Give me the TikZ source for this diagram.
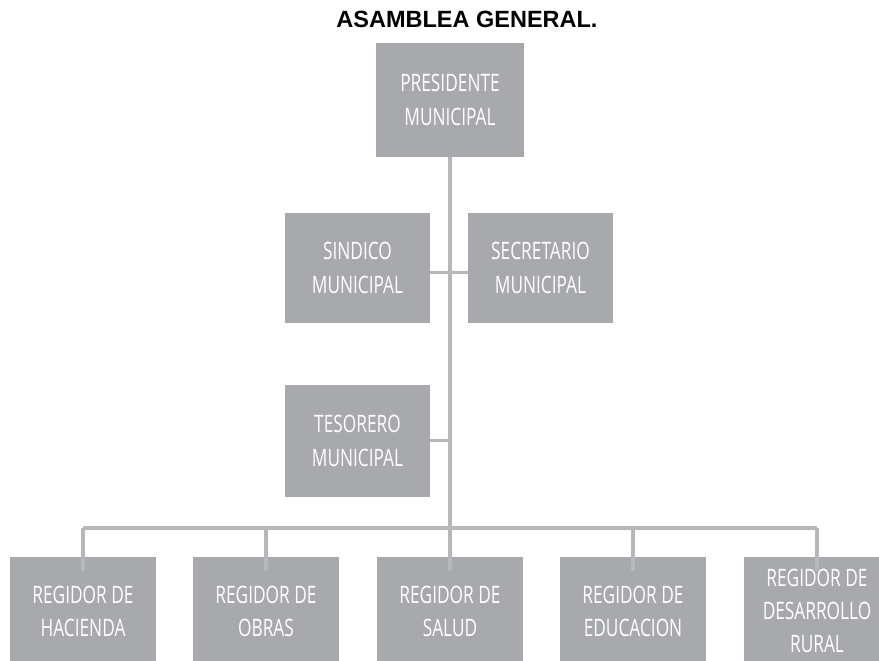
\documentclass[tikz,border=0pt]{standalone}
\usepackage{fontspec}
\setmainfont{Liberation Sans}
\newfontfamily\boxfont[FakeStretch=0.72]{Open Sans}
\definecolor{boxgray}{HTML}{A7A9AC}
\definecolor{linegray}{HTML}{B5B7BA}
\begin{document}
\begin{tikzpicture}[x=1pt,y=-1pt,
  orgbox/.style={fill=boxgray,draw=none,minimum width=145pt,minimum height=114pt,inner sep=0pt,
     align=center,text=white,font=\boxfont\fontsize{24}{34}\selectfont},
  lowbox/.style={orgbox,minimum width=146pt,minimum height=108pt,font=\boxfont\fontsize{24}{33}\selectfont},
  conn/.style={draw=linegray,line width=4pt},
  stub/.style={draw=linegray,line width=3pt}]
\useasboundingbox (0,0) rectangle (879,661);
\node[font=\bfseries\fontsize{23.5}{26}\selectfont,anchor=base] (title) at (467,28) {ASAMBLEA GENERAL.};
\node[orgbox,minimum width=148pt] (pres) at (450,100) {PRESIDENTE\\MUNICIPAL};
\node[orgbox,minimum height=110pt] (sind) at (357.5,268) {SINDICO\\MUNICIPAL};
\node[orgbox,minimum height=110pt] (secr) at (540.5,268) {SECRETARIO\\MUNICIPAL};
\node[orgbox,minimum height=112pt] (teso) at (357.5,441) {TESORERO\\MUNICIPAL};
\node[lowbox] (r1) at (83,611) {REGIDOR DE\\HACIENDA};
\node[lowbox] (r2) at (266,611) {REGIDOR DE\\OBRAS};
\node[lowbox] (r3) at (450,611) {REGIDOR DE\\SALUD};
\node[lowbox] (r4) at (633,611) {REGIDOR DE\\EDUCACION};
\node[lowbox] (r5) at (817,611) {REGIDOR DE\\DESARROLLO\\RURAL};
\coordinate (bar) at (450,528);
\coordinate (t1) at ([yshift=-14pt]r1.north);
\coordinate (t2) at ([yshift=-14pt]r2.north);
\coordinate (t3) at ([yshift=-14pt]r3.north);
\coordinate (t4) at ([yshift=-14pt]r4.north);
\coordinate (t5) at ([yshift=-14pt]r5.north);
\draw[conn] (pres.south) -- (t3);
\draw[conn] (t1 |- bar) -- (t5 |- bar);
\foreach \t in {t1,t2,t4,t5} \draw[conn] (\t |- bar) -- (\t);
\draw[stub] (sind.east |- 0,272) -- (secr.west |- 0,272);
\draw[stub] (teso.east |- 0,440) -- (pres.south |- 0,440);
\end{tikzpicture}
\end{document}
